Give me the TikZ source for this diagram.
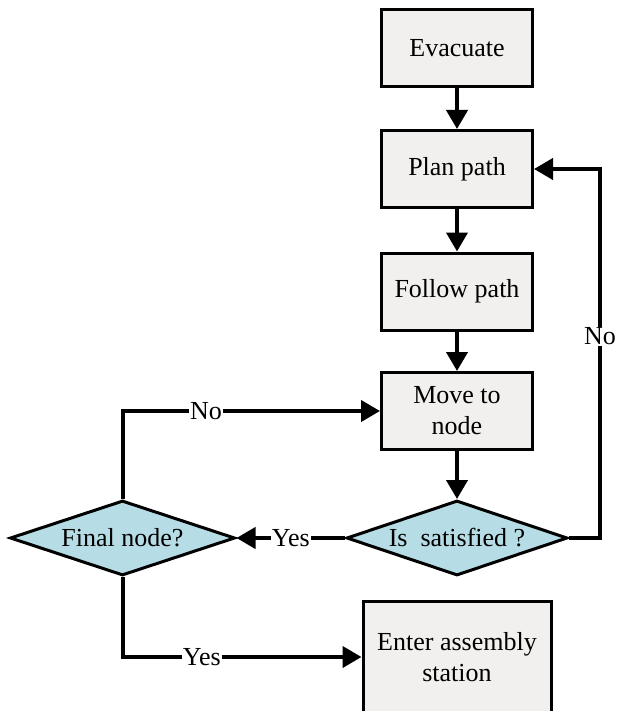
\documentclass[tikz,border=0pt]{standalone}
\usepackage{fontspec}
\setmainfont{Liberation Serif}
\usetikzlibrary{arrows.meta,shapes.geometric}
\definecolor{boxfill}{RGB}{241,240,238}
\definecolor{decfill}{RGB}{182,221,230}
\begin{document}
\begin{tikzpicture}[x=1pt,y=-1pt,
  every node/.style={font=\fontsize{26}{31}\selectfont},
  procbox/.style={draw=black,line width=3pt,fill=boxfill,rectangle,
    minimum width=151pt,minimum height=77pt,inner sep=0pt,align=center},
  decision/.style={draw=black,line width=3pt,fill=decfill,diamond,
    inner sep=0pt,minimum height=75pt},
  flow/.style={line width=4pt,-{Triangle[length=19pt,width=21pt]}},
  lbl/.style={fill=white,inner sep=1pt}]
\useasboundingbox (0,0) rectangle (617,711);
\begin{scope}
\clip (0,0) rectangle (617,711);
\node[procbox] (evac) at (457,48.5) {Evacuate};
\node[procbox] (plan) at (457,169) {Plan path};
\node[procbox] (follow) at (457,291.5) {Follow path};
\node[procbox] (move) at (457,411) {Move to\\node};
% decision diamonds: the shape is sized directly, the text sits on top
\node[decision,minimum width=221pt,label=center:{Is\ \ satisfied ?}] (sat) at (457,538) {};
\node[decision,minimum width=225pt,label=center:{Final node?}] (final) at (122.5,538) {};
\node[procbox,minimum width=188pt,minimum height=112pt] (enter) at (457,657) {Enter assembly\\station};

\draw[flow] (evac) -- (plan);
\draw[flow] (plan) -- (follow);
\draw[flow] (follow) -- (move);
\draw[flow] (move) -- (sat);
\coordinate (rt) at (600,538);
\coordinate (rtop) at (600,169);
\draw[flow] (sat.east) -- (rt) -- node[lbl,pos=0.547]{No} (rtop) -- (plan.east);
\draw[flow] (sat.west) -- node[lbl]{Yes} (final.east);
\draw[flow] (final.north) |- node[lbl,pos=0.662]{No} (move.west);
\draw[flow] (final.south) |- node[lbl,pos=0.666]{Yes} (enter.west);
\end{scope}
\end{tikzpicture}
\end{document}
